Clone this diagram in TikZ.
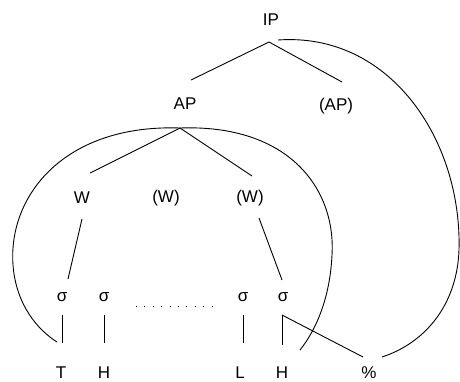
\documentclass[tikz,border=0pt]{standalone}
\usepackage{fontspec}
\setmainfont{Liberation Sans}
\begin{document}
\begin{tikzpicture}[x=1pt,y=-1pt,
  lab/.style={inner sep=0pt,font=\fontsize{17}{17}\selectfont},
  ln/.style={line width=0.9pt,black}]
\useasboundingbox (0,0) rectangle (460,381);
% labels
\node[lab] (IP) at (271,20) {IP};
\node[lab] (AP) at (185,104) {AP};
\node[lab] (AP2) at (336,106) {(AP)};
\node[lab] (W1) at (82,198) {W};
\node[lab] (W2) at (166,198) {(W)};
\node[lab] (W3) at (250,198) {(W)};
\node[lab] (s1) at (62,297) {σ};
\node[lab] (s2) at (104,297) {σ};
\node[lab] (s3) at (243,297) {σ};
\node[lab] (s4) at (283,297) {σ};
\node[lab] (T) at (61,373) {T};
\node[lab] (H1) at (104,373) {H};
\node[lab] (L) at (240,373) {L};
\node[lab] (H2) at (282,373) {H};
\node[lab] (pc) at (369,373) {\%};
% attachment points
\coordinate (IPb) at (269,42);
\coordinate (IPa) at (278,40);
\coordinate (APt) at (191,80);
\coordinate (AP2t) at (342,82);
\coordinate (APb) at (180,128);
\coordinate (W1t) at (90,173);
\coordinate (W3t) at (252,176);
\coordinate (W1b) at (82,219);
\coordinate (s1t) at (68,279);
\coordinate (W3b) at (259,218);
\coordinate (s4t) at (282,280);
\coordinate (s1b) at (62,315);
\coordinate (T1t) at (62,343);
\coordinate (s2b) at (104,315);
\coordinate (H1t) at (104,343);
\coordinate (s3b) at (243,315);
\coordinate (Lt) at (243,343);
\coordinate (s4b) at (282,315);
\coordinate (H2t) at (282,345);
\coordinate (pct) at (363,357);
\coordinate (ipEnd) at (382,357);
\coordinate (apL) at (57,342);
\coordinate (apR) at (300,350);
\coordinate (dotA) at (136,306);
\coordinate (dotB) at (212,306);
% tree lines
\draw[ln] (IPb) -- (APt);
\draw[ln] (IPb) -- (AP2t);
\draw[ln] (APb) -- (W1t);
\draw[ln] (APb) -- (W3t);
\draw[ln] (W1b) -- (s1t);
\draw[ln] (W3b) -- (s4t);
\draw[ln] (s1b) -- (T1t);
\draw[ln] (s2b) -- (H1t);
\draw[ln] (s3b) -- (Lt);
\draw[ln] (s4b) -- (H2t);
\draw[ln] (s4b) -- (pct);
\draw[line width=1pt,dash pattern=on 1pt off 7.4pt] (dotA) -- (dotB);
% arcs
\draw[ln] (IPa) .. controls (390,32) and (462,140) .. (459,250)
  .. controls (457,305) and (425,343) .. (ipEnd);
\draw[ln] (APb) .. controls (65,124) and (8,195) .. (13,265)
  .. controls (16,305) and (38,330) .. (apL);
\draw[ln] (APb) .. controls (290,124) and (336,190) .. (332,255)
  .. controls (330,298) and (316,330) .. (apR);
\end{tikzpicture}
\end{document}
